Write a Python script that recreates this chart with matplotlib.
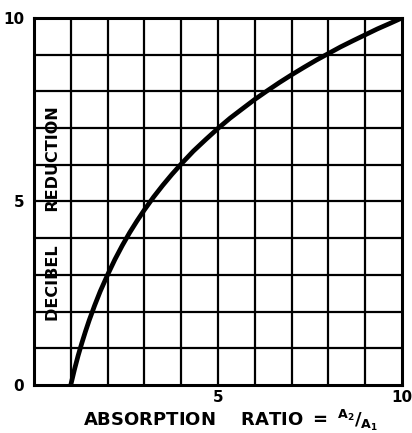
import matplotlib
matplotlib.use("Agg")
import matplotlib.pyplot as plt

# Data
absorption_ratio = [1.0, 1.1, 1.2, 1.3, 1.4, 1.5, 1.65, 1.8, 2.0, 2.2, 2.4, 2.6, 2.8, 3.0, 3.25, 3.5, 3.75,
                    4.0, 4.33, 4.67, 5.0, 5.33, 5.67, 6.0, 6.33, 6.67, 7.0, 7.33, 7.67, 8.0, 8.33,
                    8.67, 9.0, 9.33, 9.67, 10.0]
decibel_reduction = [0.0, 0.42, 0.8, 1.14, 1.46, 1.76, 2.17, 2.55, 3.0, 3.42, 3.8, 4.15, 4.47, 4.77, 5.12,
                     5.44, 5.74, 6.02, 6.37, 6.69, 6.99, 7.27, 7.53, 7.78, 8.01, 8.24, 8.45, 8.65,
                     8.85, 9.03, 9.21, 9.38, 9.54, 9.7, 9.85, 10.0]
tick_values = [0, 5, 10]
tick_labels = ["0", "5", "10"]

fig = plt.figure(figsize=(4.12, 4.33), dpi=100)
ax = fig.add_axes([0.0825, 0.111, 0.893, 0.8475])
ax.set_xlim(0, 10)
ax.set_ylim(0, 10)

for v in range(1, 10):
    ax.axvline(v, color="black", lw=1.6, zorder=1)
    ax.axhline(v, color="black", lw=1.6, zorder=1)
for s in ax.spines.values():
    s.set_linewidth(2.2)

ax.plot(absorption_ratio, decibel_reduction, color="black", lw=3.4,
        solid_capstyle="butt", solid_joinstyle="round", zorder=3)

ax.set_xticks(tick_values)
ax.set_xticklabels(tick_labels, fontsize=11, fontweight="bold")
ax.set_yticks(tick_values)
ax.set_yticklabels(tick_labels, fontsize=11, fontweight="bold")
ax.tick_params(length=0, pad=7)
ax.tick_params(axis="x", pad=4)
for lbl in ax.get_xticklabels():
    if lbl.get_text() == "0":
        lbl.set_visible(False)

ax.text(0.52, 4.66, "DECIBEL      REDUCTION", rotation=90, ha="center", va="center",
        fontsize=11.5, fontweight="bold", zorder=4)

fig.text(0.56, 0.03, r"ABSORPTION    RATIO $\mathbf{=}$ $\mathbf{^{A_2}/_{A_1}}$",
         ha="center", va="center", fontsize=13, fontweight="bold")

fig.savefig("out.png", dpi=100)
